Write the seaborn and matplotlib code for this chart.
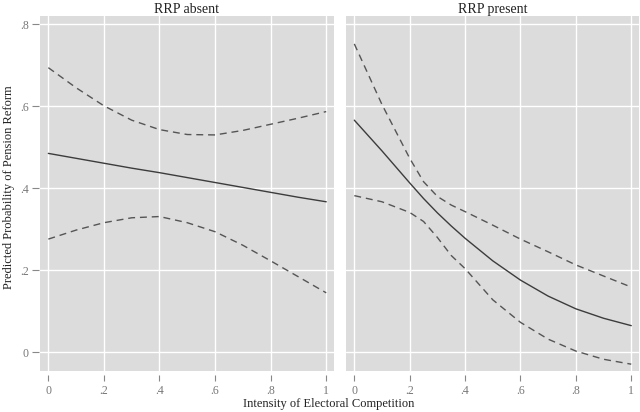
import numpy as np
import pandas as pd
import seaborn as sns
import matplotlib.pyplot as plt

# RRP absent
absent_x = [0, .1, .2, .3, .4, .5, .6, .7, .8, .9, 1]
absent_upper = [.694, .645, .601, .566, .543, .531, .530, .541, .556, .571, .587]
absent_pred = [.485, .473, .461, .449, .438, .426, .414, .402, .390, .378, .367]
absent_lower = [.276, .298, .316, .328, .331, .316, .294, .261, .223, .184, .145]

# RRP present
present_x = [0, .1, .2, .25, .3, .35, .4, .5, .6, .7, .8, .9, 1]
present_upper = [.752, .604, .473, .416, .380, .359, .343, .310, .276, .245, .213, .186, .159]
present_pred = [.566, .491, .413, .375, .340, .308, .278, .223, .176, .137, .106, .083, .065]
present_lower = [.382, .367, .341, .319, .280, .236, .204, .128, .073, .032, .003, -.017, -.029]

panel_titles = ["RRP absent", "RRP present"]
x_ticks = [0, .2, .4, .6, .8, 1]
x_ticklabels = ["0", ".2", ".4", ".6", ".8", "1"]
y_ticks = [0, .2, .4, .6, .8]
y_ticklabels = ["0", ".2", ".4", ".6", ".8"]

sns.set_theme(style="darkgrid")
plt.rcParams['font.family'] = ['Liberation Serif', 'DejaVu Serif']

fig = plt.figure(figsize=(6.4, 4.12), dpi=100)
ax_l = fig.add_axes([40 / 640, 41 / 412, 294 / 640, 355 / 412])
ax_r = fig.add_axes([346 / 640, 41 / 412, 293 / 640, 355 / 412])

panels = [
    (ax_l, absent_x, absent_upper, absent_pred, absent_lower),
    (ax_r, present_x, present_upper, present_pred, present_lower),
]

for i, (ax, xs, up, pred, lo) in enumerate(panels):
    ax.set_facecolor("#dcdcdc")
    sns.lineplot(x=xs, y=pred, ax=ax, color="#3c3c3c", linewidth=1.0)
    for band in (up, lo):
        sns.lineplot(x=xs, y=band, ax=ax, color="#555555", linewidth=1.0,
                     linestyle=(0, (5, 3.5)))
    ax.set_xlim(-0.03, 1.028)
    ax.set_ylim(-0.0456, 0.82)
    ax.set_xticks(x_ticks)
    ax.set_xticklabels(x_ticklabels)
    ax.set_yticks(y_ticks)
    ax.grid(True, color="white", linewidth=1.0)
    for s in ax.spines.values():
        s.set_visible(False)
    ax.spines['bottom'].set_position(('outward', 3))
    ax.spines['left'].set_position(('outward', 1))
    ax.tick_params(axis='x', bottom=True, length=4, width=0.8, color="#888888",
                   labelsize=8.5, labelcolor="#777777", pad=3)
    if i == 0:
        ax.set_yticklabels(y_ticklabels)
        ax.tick_params(axis='y', left=True, length=5, width=0.8, color="#888888",
                       labelsize=8.5, labelcolor="#777777", pad=2)
    else:
        ax.set_yticklabels([])
        ax.tick_params(axis='y', left=False, length=0)
    ax.set_title(panel_titles[i], fontsize=10, color="#222222", pad=2)
    ax.set_xlabel("")
    ax.set_ylabel("")

fig.text(329 / 640, 1 - 404 / 412, "Intensity of Electoral Competition",
         ha="center", va="center", fontsize=9, color="#222222")
fig.text(9 / 640, 1 - 187 / 412, "Predicted Probability of Pension Reform",
         ha="center", va="center", rotation=90, fontsize=9, color="#222222")

fig.savefig("out.png", dpi=100)
